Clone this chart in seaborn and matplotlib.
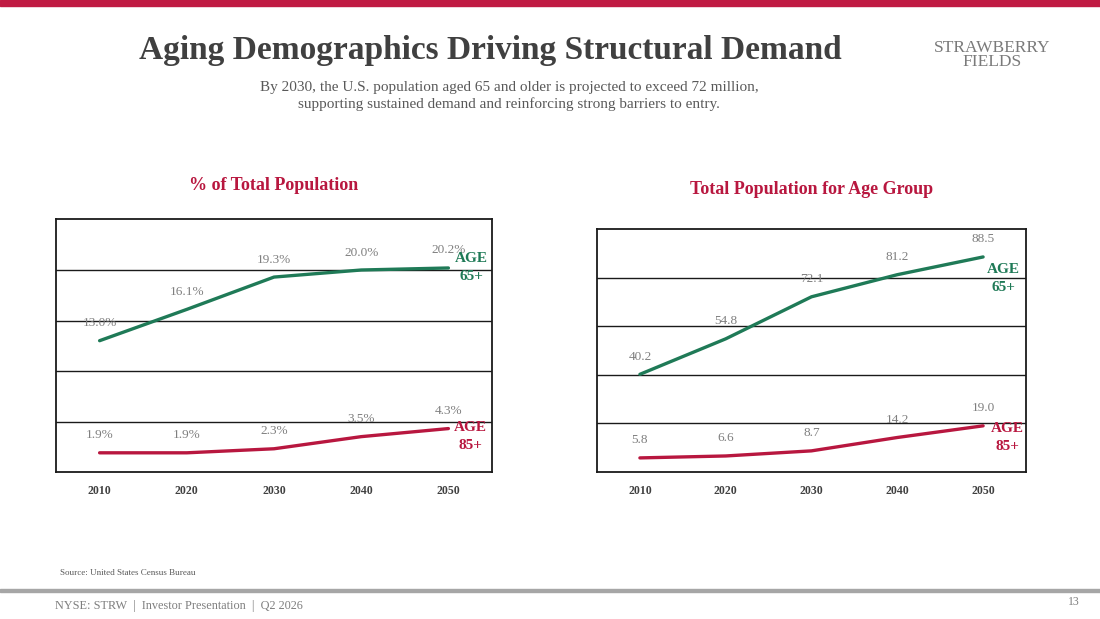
import pandas as pd
import seaborn as sns
import matplotlib.pyplot as plt
from matplotlib.patches import Rectangle

# data
years = ["2010", "2020", "2030", "2040", "2050"]
pct_65 = [13.0, 16.1, 19.3, 20.0, 20.2]
pct_85 = [1.9, 1.9, 2.3, 3.5, 4.3]
pop_65 = [40.2, 54.8, 72.1, 81.2, 88.5]
pop_85 = [5.8, 6.6, 8.7, 14.2, 19.0]

GREEN = "#1F7A57"
RED = "#B8173F"
GRAY = "#595959"
SERIF = "Liberation Serif"

sns.set_theme(style="white")
plt.rcParams["font.family"] = [SERIF, "DejaVu Serif"]


def make_frame(v65, v85):
    df = pd.DataFrame({"year": years, "AGE 65+": v65, "AGE 85+": v85})
    return df.melt(id_vars="year", var_name="group", value_name="value")


def draw_panel(ax, df, ylim, step, fmt, title, title_pad, tag_offsets):
    sns.lineplot(data=df, x="year", y="value", hue="group",
                 palette={"AGE 65+": GREEN, "AGE 85+": RED},
                 linewidth=2.4, legend=False, ax=ax, sort=False)
    ax.set_xlim(-0.5, 4.5)
    ax.set_ylim(0, ylim)
    ax.set_yticks(range(step, ylim, step))
    ax.yaxis.grid(True, color="#1a1a1a", linewidth=1.0)
    ax.tick_params(axis="y", left=False, labelleft=False)
    ax.tick_params(axis="x", bottom=False, pad=3)
    for lab in ax.get_xticklabels():
        lab.set_fontweight("bold")
        lab.set_fontsize(8.5)
        lab.set_color("#404040")
    ax.set_xlabel("")
    ax.set_ylabel("")
    for s in ax.spines.values():
        s.set_color("#1a1a1a")
        s.set_linewidth(1.3)

    for grp in ["AGE 65+", "AGE 85+"]:
        sub = df[df.group == grp].reset_index(drop=True)
        for i, v in enumerate(sub.value):
            ax.annotate(fmt.format(v), (i, v), xytext=(0, 17.5),
                        textcoords="offset pixels", ha="center", va="center",
                        fontsize=9.5, color="#7f7f7f")
        color = GREEN if grp == "AGE 65+" else RED
        dx, dy = tag_offsets[grp]
        ax.annotate(grp.replace(" ", "\n"), (4, sub.value.iloc[-1]),
                    xytext=(dx, dy), textcoords="offset pixels",
                    ha="center", va="center", fontsize=11,
                    fontweight="bold", color=color, linespacing=1.5,
                    annotation_clip=False)

    ax.set_title(title, color=RED, fontweight="bold", fontsize=13, pad=title_pad)


fig = plt.figure(figsize=(11, 6.19), dpi=100)

# slide furniture
fig.patches.append(Rectangle((0, 1 - 6 / 619), 1, 6 / 619, transform=fig.transFigure,
                             color="#C01B43", zorder=0))
fig.patches.append(Rectangle((0, 1 - 592 / 619), 1, 3 / 619, transform=fig.transFigure,
                             color="#A6A6A6", zorder=0))

fig.text(490 / 1100, 1 - 51 / 619, "Aging Demographics Driving Structural Demand",
         ha="center", va="center", fontsize=24, fontweight="bold", color="#404040")
fig.text(509 / 1100, 1 - 96 / 619,
         "By 2030, the U.S. population aged 65 and older is projected to exceed 72 million,\n"
         "supporting sustained demand and reinforcing strong barriers to entry.",
         ha="center", va="center", fontsize=11, color=GRAY, linespacing=1.3)
fig.text(992 / 1100, 1 - 55 / 619, "STRAWBERRY\nFIELDS", ha="center", va="center",
         fontsize=12.5, color="#7a7a7a", linespacing=0.8)

ax1 = fig.add_axes([56 / 1100, 1 - 472 / 619, 436 / 1100, 252.5 / 619])
draw_panel(ax1, make_frame(pct_65, pct_85), 25, 5, "{:.1f}%",
           "% of Total Population", 21,
           {"AGE 65+": (23, 0), "AGE 85+": (22, -8)})

ax2 = fig.add_axes([597 / 1100, 1 - 472 / 619, 429 / 1100, 243 / 619])
draw_panel(ax2, make_frame(pop_65, pop_85), 100, 20, "{:.1f}",
           "Total Population for Age Group", 25.5,
           {"AGE 65+": (20, -22), "AGE 85+": (24, -12)})

fig.text(60 / 1100, 1 - 573 / 619, "Source: United States Census Bureau",
         ha="left", va="center", fontsize=6.5, color=GRAY)
fig.text(55 / 1100, 1 - 606 / 619, "NYSE: STRW  |  Investor Presentation  |  Q2 2026",
         ha="left", va="center", fontsize=8.8, color="#7f7f7f")
fig.text(1080 / 1100, 1 - 602 / 619, "13", ha="right", va="center",
         fontsize=8.5, color="#7f7f7f")

fig.savefig("out.png", dpi=100)
